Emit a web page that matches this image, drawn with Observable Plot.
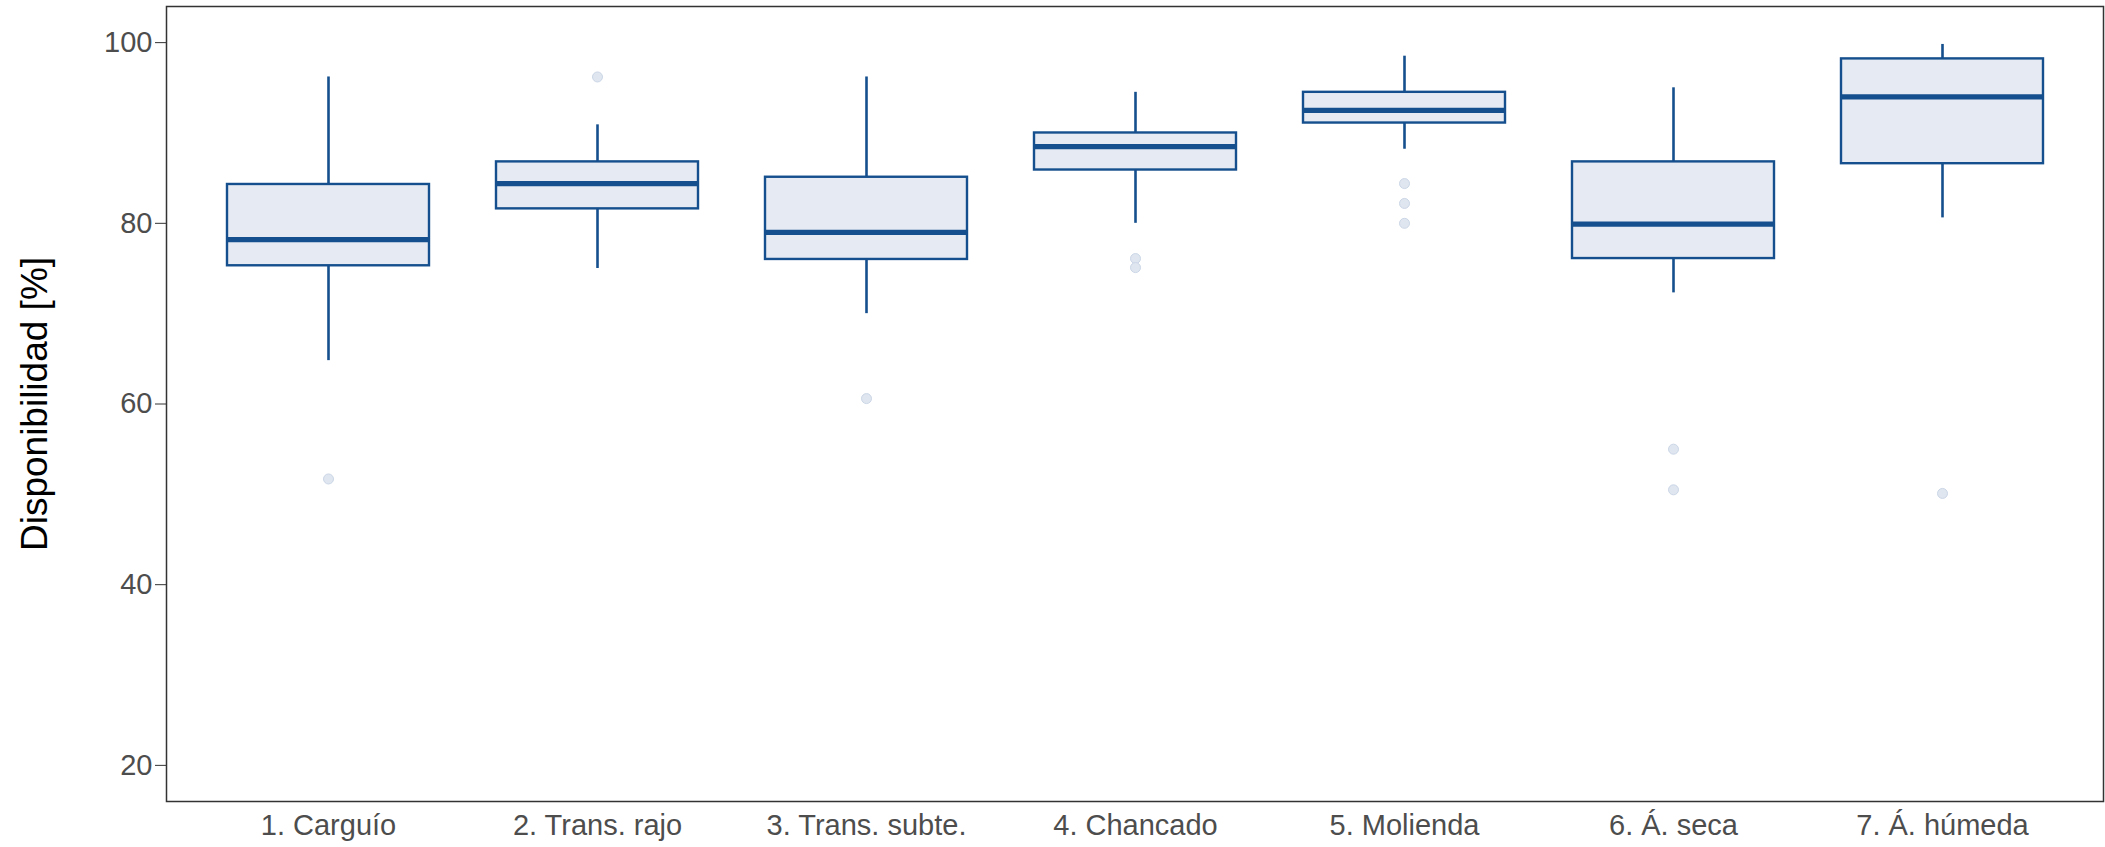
<!DOCTYPE html>
<html>
<head>
<meta charset="utf-8">
<script src="https://cdn.jsdelivr.net/npm/d3@7"></script>
<script src="https://cdn.jsdelivr.net/npm/@observablehq/plot@0.6"></script>
<style>
  html, body { margin: 0; padding: 0; background: #fff; }
  #chart svg { display: block; }
</style>
</head>
<body>
<div id="chart"></div>
<script>
// Categories (x axis)
const categories = ["1. Carguío", "2. Trans. rajo", "3. Trans. subte.", "4. Chancado", "5. Molienda", "6. Á. seca", "7. Á. húmeda"];
// Box statistics (Disponibilidad %)
const whiskerLow  = [64.8, 75.0, 70.0, 80.0, 88.2, 72.3, 80.6];
const q1          = [75.3, 81.6, 76.0, 85.9, 91.1, 76.1, 86.6];
const median      = [78.2, 84.4, 79.0, 88.5, 92.5, 79.9, 94.0];
const q3          = [84.3, 86.8, 85.1, 90.0, 94.5, 86.8, 98.2];
const whiskerHigh = [96.2, 90.9, 96.2, 94.5, 98.5, 95.0, 99.8];
// Outliers
const outlierCat   = ["1. Carguío", "2. Trans. rajo", "3. Trans. subte.", "4. Chancado", "4. Chancado", "5. Molienda", "5. Molienda", "5. Molienda", "6. Á. seca", "6. Á. seca", "7. Á. húmeda"];
const outlierValue = [51.7, 96.2, 60.6, 76.1, 75.1, 84.4, 82.2, 80.0, 55.0, 50.5, 50.1];
// Axis ticks
const yTicks = [20, 40, 60, 80, 100];
const yTitle = "Disponibilidad [%]";

const boxes = categories.map((c, i) => ({
  cat: c, lo: whiskerLow[i], q1: q1[i], med: median[i], q3: q3[i], hi: whiskerHigh[i]
}));
const outliers = outlierCat.map((c, i) => ({cat: c, v: outlierValue[i]}));

const blue = "#154f8d";
const fillBox = "#e6ebf3";

const chart = Plot.plot({
  width: 2105,
  height: 847,
  marginLeft: 166,
  marginRight: 2,
  marginTop: 6,
  marginBottom: 46,
  style: {fontFamily: "'Liberation Sans', Arial, sans-serif", background: "#fff"},
  x: {domain: categories, paddingInner: 0.25, paddingOuter: 0.225, axis: null},
  y: {domain: [16, 104], axis: null},
  marks: [
    Plot.ruleX(boxes, {x: "cat", y1: "q3", y2: "hi", stroke: blue, strokeWidth: 2.6}),
    Plot.ruleX(boxes, {x: "cat", y1: "lo", y2: "q1", stroke: blue, strokeWidth: 2.6}),
    Plot.barY(boxes, {x: "cat", y1: "q1", y2: "q3", fill: fillBox, stroke: blue, strokeWidth: 2.4}),
    Plot.tickY(boxes, {x: "cat", y: "med", stroke: blue, strokeWidth: 5.2}),
    Plot.dot(outliers, {x: "cat", y: "v", r: 5, fill: "#dfe6f0", stroke: "#cbd6e6", strokeWidth: 1}),
    Plot.frame({stroke: "#333333", strokeWidth: 1.5}),
    Plot.axisY({ticks: yTicks, tickSize: 11, tickPadding: 3, fontSize: 29, stroke: "#333333", color: "#4d4d4d", label: null, tickFormat: d => String(d)}),
    Plot.axisX({tickSize: 0, tickPadding: 13, fontSize: 29, color: "#4d4d4d", label: null}),
    Plot.text([yTitle], {frameAnchor: "left", text: d => d, rotate: -90, dx: -131, fontSize: 37, fill: "#000000", textAnchor: "middle", lineAnchor: "middle"})
  ]
});
document.getElementById("chart").appendChild(chart);
</script>
</body>
</html>
